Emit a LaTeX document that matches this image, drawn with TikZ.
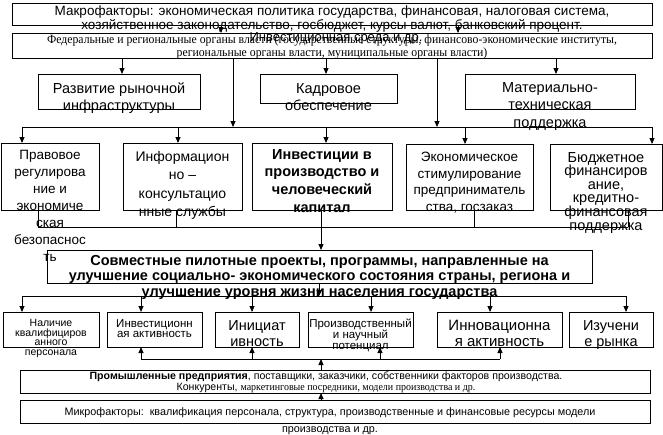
\documentclass[tikz,border=0pt]{standalone}
\usepackage{fontspec}
\setmainfont{Liberation Sans}
\newfontfamily\tnr[FakeStretch=0.94]{Liberation Serif}
\usetikzlibrary{arrows.meta, positioning, calc}

\begin{document}
\begin{tikzpicture}[x=1pt, y=-1pt,
      fr/.style 2 args={draw, line width=0.9pt, minimum width=#1, minimum height=#2,
                        anchor=north west, inner sep=0pt, outer sep=0pt},
      txt/.style={anchor=north, align=center, inner sep=0pt},
      big/.style={txt, font=\fontsize{13.5}{17}\selectfont},
      small/.style={txt, font=\fontsize{11.5}{10}\selectfont},
      arr/.style={-{Triangle[length=6pt, width=5pt]}, line width=0.9pt},
      ln/.style={line width=0.9pt}]
    \useasboundingbox (0,0) rectangle (663,434);
    \fill[white] (0,0) rectangle (663,434);

    % macro level
    \node[fr={640pt}{22pt}] (makro) at (12,3) {};
    \node[txt, font=\fontsize{13.5}{14.5}\selectfont] (makro-t) at ([yshift=-2.5pt]makro.north)
      {Макрофакторы: экономическая политика государства, финансовая, налоговая система,\\
       хозяйственное законодательство, госбюджет, курсы валют, банковский процент.};
    \node[fr={640pt}{25pt}] (sreda) at (12,33) {};
    \node[txt, font=\tnr\fontsize{12.5}{11}\selectfont] (sreda-t) at ([yshift=-2pt]sreda.north)
      {Федеральные и региональные органы власти (государственные структуры, финансово-экономические институты,\\
       региональные органы власти, муниципальные органы власти)};
    \node[txt, font=\fontsize{13}{13}\selectfont] (sreda-o) at (336,32) {Инвестиционная среда и др.};
    \draw[arr] ([xshift=209pt]makro.south west) -- ([xshift=209pt]sreda.north west);
    \draw[arr] ([xshift=446pt]makro.south west) -- ([xshift=446pt]sreda.north west);

    % support
    \node[fr={162pt}{35pt}] (rynok) at (38,74) {};
    \node[fr={137pt}{29pt}] (kadry) at (260,74) {};
    \node[fr={170pt}{35pt}] (mtech) at (465,74) {};
    \node[big, font=\fontsize{14.5}{17}\selectfont] (rynok-t) at ([yshift=-9pt]rynok.north) {Развитие рыночной\\ инфраструктуры};
    \node[big, font=\fontsize{14.5}{17}\selectfont] (kadry-t) at ([yshift=-9pt]kadry.north) {Кадровое\\ обеспечение};
    \node[big, font=\fontsize{14.5}{17.5}\selectfont] (mtech-t) at ([yshift=-8pt]mtech.north) {Материально-\\ техническая\\ поддержка};
    \foreach \n/\dx in {rynok/84, kadry/66, mtech/91}
      \draw[arr] ([xshift=\dx pt]\n.north west |- sreda.south) -- ([xshift=\dx pt]\n.north west);

    \coordinate (bus1) at (22,127);
    \draw[ln] (bus1) -- (652,127);
    \draw[arr] (sreda.south -| 233,0) -- (bus1 -| 233,0);
    \draw[arr] (sreda.south -| 437,0) -- (bus1 -| 437,0);

    % state instruments
    \node[fr={98pt}{67pt}]  (pravo)  at (1,143) {};
    \node[fr={119pt}{67pt}] (inform) at (123,143) {};
    \node[fr={140pt}{67pt}] (invest) at (252,143) {};
    \node[fr={127pt}{66pt}] (econ)   at (406,144) {};
    \node[fr={112pt}{66pt}] (budget) at (550,144) {};
    \node[big] (pravo-t) at ([yshift=-7pt]pravo.north)
      {Правовое\\ регулирова\\ ние и\\ экономиче\\ ская\\ безопаснос\\ ть};
    \node[big, font=\fontsize{14}{18.5}\selectfont] (inform-t) at ([yshift=-8pt]inform.north)
      {Информацион\\ но –\\ консультацио\\ нные службы};
    \node[big, font=\bfseries\fontsize{14.5}{17.7}\selectfont] (invest-t) at ([yshift=-6pt]invest.north)
      {Инвестиции в\\ производство и\\ человеческий\\ капитал};
    \node[big, font=\fontsize{13.5}{16.5}\selectfont] (econ-t) at ([yshift=-8pt]econ.north)
      {Экономическое\\ стимулирование\\ предприниматель\\ ства, госзаказ};
    \node[big, font=\fontsize{14.5}{13.6}\selectfont] (budget-t) at ([yshift=-8pt]budget.north)
      {Бюджетное\\ финансиров\\ ание,\\ кредитно-\\ финансовая\\ поддержка};
    \foreach \n/\dx in {pravo/21, inform/55, invest/74, econ/59, budget/102}
      \draw[arr] ([xshift=\dx pt]\n.north west |- bus1) -- ([xshift=\dx pt]\n.north west);

    \coordinate (bus2) at (38,227);
    \draw[ln] (bus2) -- (628,227);
    \foreach \n/\dx in {pravo/37, inform/53, econ/68, budget/78}
      \draw[ln] ([xshift=\dx pt]\n.south west) -- ([xshift=\dx pt]\n.south west |- bus2);

    % joint projects
    \node[fr={545pt}{33pt}] (sovm) at (47,250) {};
    \node[txt, font=\bfseries\fontsize{14.5}{15.5}\selectfont] (sovm-t) at ([yshift=-5pt]sovm.north)
      {Совместные пилотные проекты, программы, направленные на\\
       улучшение социально- экономического состояния страны, региона и\\
       улучшение уровня жизни населения государства};
    \draw[arr] ([xshift=69pt]invest.south west) -- ([xshift=69pt]invest.south west |- sovm.north);

    \coordinate (bus3) at (22,296);
    \draw[ln] (bus3) -- (626,296);
    \draw[arr] ([xshift=272pt]sovm.south west) -- ([xshift=272pt]sovm.south west |- bus3);

    % enterprise factors
    \node[fr={96pt}{35pt}]  (nalich)  at (3,312) {};
    \node[fr={95pt}{35pt}]  (invakt)  at (107,312) {};
    \node[fr={84pt}{35pt}]  (iniciat) at (215,312) {};
    \node[fr={105pt}{35pt}] (proizv)  at (308,312) {};
    \node[fr={125pt}{35pt}] (innov)   at (437,312) {};
    \node[fr={84pt}{35pt}]  (izuch)   at (569,312) {};
    \node[small, font=\fontsize{10.5}{9.7}\selectfont] (nalich-t) at ([yshift=-7pt]nalich.north)
      {Наличие\\ квалифициров\\ анного\\ персонала};
    \node[small] (invakt-t) at ([yshift=-7pt]invakt.north) {Инвестиционн\\ ая активность};
    \node[big, font=\fontsize{14.5}{16}\selectfont] (iniciat-t) at ([yshift=-8pt]iniciat.north) {Инициат\\ ивность};
    \node[small, font=\fontsize{11.5}{11}\selectfont] (proizv-t) at ([yshift=-7pt]proizv.north)
      {Производственный\\ и научный\\ потенциал};
    \node[big, font=\fontsize{15}{16}\selectfont] (innov-t) at ([yshift=-8pt]innov.north) {Инновационна\\ я активность};
    \node[big, font=\fontsize{14.5}{16}\selectfont] (izuch-t) at ([yshift=-8pt]izuch.north) {Изучени\\ е рынка};
    \foreach \n/\dx in {nalich/19, invakt/34, iniciat/37, proizv/63, innov/53, izuch/57}
      \draw[arr] ([xshift=\dx pt]\n.north west |- bus3) -- ([xshift=\dx pt]\n.north west);

    \coordinate (bus4) at (141,359);
    \draw[ln] (bus4) -- (500,359);
    \foreach \n/\dx in {invakt/34, iniciat/37, proizv/72, innov/63}
      \draw[arr] ([xshift=\dx pt]\n.south west |- bus4) -- ([xshift=\dx pt]\n.south west);

    % micro level
    \node[fr={630pt}{23pt}] (prom) at (20,370) {};
    \node[txt, font=\fontsize{10.6}{11}\selectfont] (prom-t) at ([xshift=-9pt, yshift=-2pt]prom.north)
      {\textbf{Промышленные предприятия}, поставщики, заказчики, собственники факторов производства.\\
       Конкуренты, {\tnr маркетинговые посредники, модели производства и др.}};
    \draw[arr] ([xshift=301pt]prom.north west) -- ([xshift=301pt]prom.north west |- bus4);

    \node[fr={630pt}{23pt}] (mikro) at (20,400) {};
    \node[txt, font=\fontsize{10.8}{17}\selectfont] (mikro-t) at ([xshift=-5pt, yshift=-7pt]mikro.north)
      {Микрофакторы:\ \ квалификация персонала, структура, производственные и финансовые ресурсы модели\\
       производства и др.};
    \draw[arr] ([xshift=301pt]mikro.north west) -- ([xshift=301pt]prom.south west);
  \end{tikzpicture}
\end{document}
